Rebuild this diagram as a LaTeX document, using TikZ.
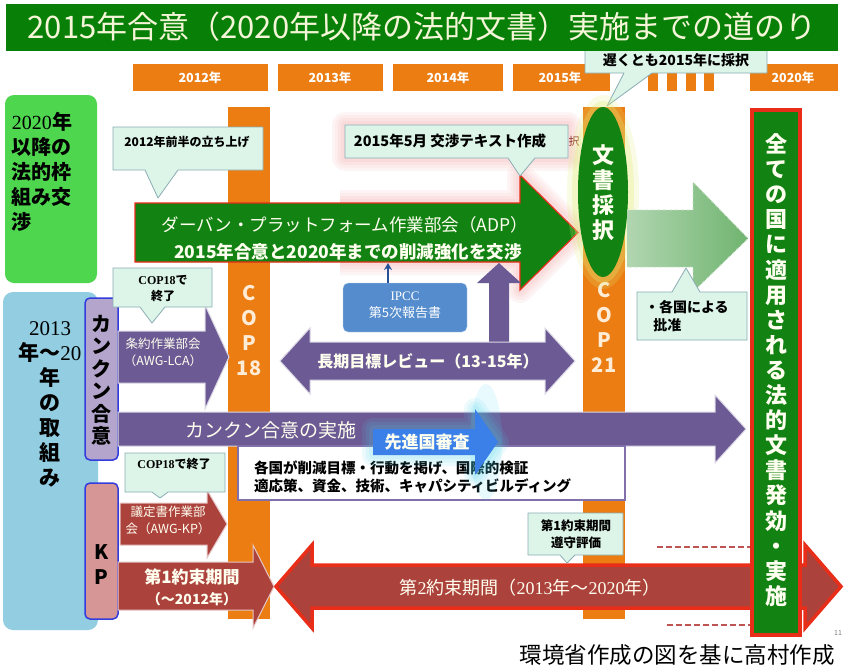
\documentclass[tikz,border=0pt]{standalone}
\usepackage{fontspec}
\setmainfont{Noto Sans CJK JP}
\newfontfamily\sernum{Liberation Serif}
\usetikzlibrary{arrows.meta,shapes.geometric}
\definecolor{titlegreen}{RGB}{8,128,8}
\definecolor{titletext}{RGB}{245,245,215}
\definecolor{yearorange}{RGB}{235,125,18}
\definecolor{brightgreen}{RGB}{78,214,78}
\definecolor{lightblue}{RGB}{146,205,225}
\definecolor{lavender}{RGB}{180,165,205}
\definecolor{kppink}{RGB}{215,150,150}
\definecolor{boxblue}{RGB}{50,60,220}
\definecolor{purplearrow}{RGB}{108,90,148}
\definecolor{darkred}{RGB}{172,66,60}
\definecolor{brightred}{RGB}{232,45,25}
\definecolor{calloutfill}{RGB}{220,245,232}
\definecolor{calloutline}{RGB}{140,172,180}
\definecolor{adpgreen}{RGB}{18,130,18}
\definecolor{lightarrow}{RGB}{112,180,112}
\definecolor{ipccblue}{RGB}{84,140,205}
\definecolor{reviewblue}{RGB}{58,128,232}
\definecolor{arrowtext}{RGB}{255,255,240}
\definecolor{coptext}{RGB}{255,236,215}
\definecolor{dashred}{RGB}{190,85,85}
\definecolor{pinkglow}{RGB}{240,120,120}
\definecolor{yellowglow}{RGB}{225,235,120}
\definecolor{cyanglow}{RGB}{70,215,240}
\newcommand\fsz[2]{\fontsize{#1}{#2}\selectfont}
\tikzset{
  callout/.style={fill=calloutfill, draw=calloutline, line width=0.8pt, line join=round},
  yearbar/.style={fill=yearorange},
  yeartext/.style={text=white, font=\fsz{12.5}{12.5}\bfseries},
  calltext/.style={text=black, font=\fsz{12}{15}\bfseries, align=center},
  arrowlabel/.style={text=arrowtext, align=center},
  copbar/.style={fill=yearorange},
  coplabel/.style={text=coptext, font=\fsz{20}{25}\bfseries, align=center},
  purpleshape/.style={fill=purplearrow, draw=white!75!purplearrow, line width=1pt, line join=miter},
  redshape/.style={fill=darkred, draw=white!70!darkred, line width=1pt},
  sidebox/.style={draw=boxblue, line width=1.5pt, rounded corners=5pt}
}
\begin{document}
\begin{tikzpicture}[x=1pt,y=-1pt, every node/.style={inner sep=0pt, outer sep=0pt}]
\useasboundingbox (0,0) rectangle (844,667);
\fill[white] (0,0) rectangle (844,667);

% year bars
\fill[yearbar] (133,64) rectangle (268,91);
\node[yeartext] (y2012) at (200,77.5) {2012年};
\fill[yearbar] (278,64) rectangle (383,91);
\node[yeartext] (y2013) at (330,77.5) {2013年};
\fill[yearbar] (393,64) rectangle (503,91);
\node[yeartext] (y2014) at (448,77.5) {2014年};
\fill[yearbar] (513,64) rectangle (610,91);
\node[yeartext] (y2015) at (560,77.5) {2015年};
\foreach \a in {648,667,686,704} {\fill[yearbar] (\a,64) rectangle (\a+10,91);}
\fill[yearbar] (750,64) rectangle (838,91);
\node[yeartext] (y2020) at (793,77.5) {2020年};

% callout late 2015
\draw[callout] (585,44) -- (767,44) -- (767,73) -- (652,73) -- (607,106) -- (624,73) -- (585,73) -- cycle;
\node[calltext, font=\fsz{14}{14}\bfseries] (adopt2015) at (676,60) {遅くとも2015年に採択};

% title
\fill[titlegreen] (6,4) rectangle (838,51);
\node[text=titletext, font=\fsz{31}{31}] (title) at (422,27) {2015年合意（2020年以降の法的文書）実施までの道のり};

% left boxes
\fill[brightgreen, rounded corners=9pt] (5,95) rectangle (97,283);
\node[align=left, anchor=north west, font=\fsz{20}{25}\bfseries] (nego) at (12,112) {{\sernum\mdseries 2020}年\\以降の\\法的枠\\組み交\\渉};
\fill[lightblue, rounded corners=10pt] (3,292) rectangle (98,630);
\node[align=center, font=\fsz{21}{25}\bfseries] (torikumi) at (50,404) {{\sernum\mdseries 2013}\\年～{\sernum\mdseries 20}\\年\\の\\取\\組\\み};
\draw[sidebox, fill=lavender] (85,298) rectangle (118,460);
\node[align=center, font=\fsz{20}{22.5}\bfseries] (cancun) at (101.5,380) {カ\\ン\\ク\\ン\\合\\意};
\draw[sidebox, fill=kppink] (85,483) rectangle (118,619);
\node[align=center, font=\fsz{20}{25}\bfseries] (kp) at (101.5,565) {K\\P};

% COP bars
\fill[copbar] (228,107) rectangle (270,619);
\fill[copbar] (583,107) rectangle (625,619);
\node[coplabel] (cop18) at (249,331) {C\\O\\P\\18};
\node[coplabel] (cop21) at (604,327) {C\\O\\P\\21};

% pink glow around ADP head and text callout
\foreach \w in {26,20,14,8} {
  \draw[pinkglow, opacity=0.07, line width=\w pt, line join=round]
    (340,203) -- (520,203) -- (520,175) -- (578,232.5) -- (520,290) -- (520,262) -- (340,262);
  \draw[pinkglow, opacity=0.07, line width=\w pt, line join=round]
    (345,125) rectangle (568,158);
}

% ADP arrow
\draw[fill=adpgreen, draw=brightred, line width=1.2pt, line join=miter] (135,203) -- (520,203) -- (520,175) -- (578,232.5) -- (520,290) -- (520,262) -- (135,262) -- cycle;
\node[arrowlabel, font=\fsz{17.5}{17.5}] (adp1) at (345,225) {ダーバン・プラットフォーム作業部会（ADP）};
\node[arrowlabel, font=\fsz{17.5}{17.5}\bfseries] (adp2) at (348,252) {2015年合意と2020年までの削減強化を交渉};

% callouts above ADP
\draw[callout] (113,127) -- (263,127) -- (263,170) -- (178,170) -- (158,198) -- (145,170) -- (113,170) -- cycle;
\node[calltext] (launch) at (187,142) {2012年前半の立ち上げ};
\draw[callout] (345,125) -- (568,125) -- (568,158) -- (535,158) -- (520,176) -- (508,158) -- (345,158) -- cycle;
\node[calltext, font=\fsz{14.5}{14.5}\bfseries] (text2015) at (450,141) {2015年5月 交渉テキスト作成};
\node[text={rgb,255:red,140;green,50;blue,40}, font=\fsz{11}{11}] (stray) at (574,141) {択};

% ellipse
\fill[yellowglow, opacity=0.2] (603,192) ellipse [x radius=36, y radius=97];
\fill[yellowglow, opacity=0.3] (603,192) ellipse [x radius=31, y radius=91];
\node[ellipse, fill=adpgreen, minimum width=50, minimum height=170] (adoptdoc) at (603,192) {};
\node[align=center, text=arrowtext, font=\fsz{22}{25}\bfseries] (adoptlabel) at (603,193) {文\\書\\採\\択};

% light green arrow
\shade[left color=lightarrow!55!white, right color=lightarrow] (627,210) -- (693,210) -- (693,182) -- (748,238.5) -- (693,292) -- (693,267) -- (627,267) -- cycle;
\draw[white!60!lightarrow, dashed, line width=0.8pt] (627,210) -- (693,210) -- (693,182) -- (748,238.5) -- (693,292) -- (693,267) -- (627,267);

% callout ratification
\draw[callout] (637,292) -- (672,292) -- (686,268) -- (700,292) -- (747,292) -- (747,340) -- (637,340) -- cycle;
\node[align=left, anchor=west, font=\fsz{14}{18}\bfseries] (ratify) at (645,316) {・各国による\\\hspace{0.6em}批准};

% IPCC and up arrow
\fill[purplearrow] (489,345) -- (489,283) -- (477,283) -- (499,263) -- (521,283) -- (509,283) -- (509,345) -- cycle;
\node[fill=ipccblue, rounded corners=5pt, minimum width=124, minimum height=49, draw=white!70!ipccblue] (ipcc) at (405,307.5) {};
\node[align=center, text=white, font=\fsz{13}{17}] (ipcclabel) at (405,305) {{\sernum IPCC}\\第5次報告書};
\coordinate (adpbottom) at (388,263);
\draw[-{Stealth[length=7pt,width=8pt]}, line width=2.5pt, draw={rgb,255:red,40;green,80;blue,150}] (388,283) -- (adpbottom);

% long-term review double arrow
\draw[purpleshape] (280,361) -- (310,328) -- (310,342) -- (545,342) -- (545,328) -- (575,361) -- (545,394) -- (545,380) -- (310,380) -- (310,394) -- cycle;
\node[arrowlabel, font=\fsz{16}{16}\bfseries] (review) at (428,361) {長期目標レビュー（13-15年）};

% AWG-LCA arrow
\draw[purpleshape] (118,331) -- (205,331) -- (205,305) -- (229,357) -- (205,409) -- (205,383) -- (118,383) -- cycle;
\node[arrowlabel, font=\fsz{12.5}{17}] (lca) at (163,352) {条約作業部会\\（AWG-LCA）};
\draw[callout] (113,268) -- (212,268) -- (212,307) -- (165,307) -- (152,323) -- (140,307) -- (113,307) -- cycle;
\node[calltext, font=\fsz{12}{16}\bfseries] (cop18end1) at (163,289) {{\sernum COP18}で\\終了};

% Cancun implementation arrow
\draw[purpleshape] (118,412) -- (715,412) -- (715,395) -- (746,429) -- (715,463) -- (715,446) -- (118,446) -- cycle;
\node[arrowlabel, anchor=west, font=\fsz{19}{19}] (cancunimpl) at (185,430) {カンクン合意の実施};

% text box
\draw[fill=white, draw={rgb,255:red,130;green,112;blue,170}, line width=1.5pt] (238,446) rectangle (625,500);
\node[align=left, anchor=west, font=\fsz{14.5}{18}\bfseries] (boxtext) at (254,477) {各国が削減目標・行動を掲げ、国際的検証\\適応策、資金、技術、キャパシティビルディング};

% developed country review arrow with glow
\foreach \w in {22,15,8} {
  \draw[cyanglow, opacity=0.1, line width=\w pt, line join=round]
    (373,429) -- (475,429) -- (475,409) -- (498,442) -- (475,475) -- (475,455) -- (373,455) -- cycle;
}
\fill[cyanglow, opacity=0.12] (486,442) ellipse [x radius=16, y radius=58];
\fill[reviewblue] (373,429) -- (475,429) -- (475,409) -- (498,442) -- (475,475) -- (475,455) -- (373,455) -- cycle;
\node[arrowlabel, font=\fsz{17}{17}\bfseries] (devreview) at (427,442) {先進国審査};

% AWG-KP arrow
\draw[redshape] (120,503) -- (207,503) -- (207,490) -- (227,524) -- (207,558) -- (207,545) -- (120,545) -- cycle;
\node[arrowlabel, font=\fsz{12.5}{17}] (kpawg) at (168,520) {議定書作業部\\会（AWG-KP）};
\draw[callout] (125,453) -- (225,453) -- (225,492) -- (168,492) -- (160,498) -- (152,492) -- (125,492) -- cycle;
\node[calltext, font=\fsz{12}{12}\bfseries] (cop18end2) at (174,464) {{\sernum COP18}で終了};

% first commitment period
\draw[redshape] (118,562) -- (253,562) -- (253,545) -- (274,586.5) -- (253,628) -- (253,610) -- (118,610) -- cycle;
\node[arrowlabel, font=\fsz{17}{21}\bfseries] (cp1) at (192,587) {第1約束期間\\{\fsz{14}{14}（～2012年）}};

% second commitment period
\draw[fill=darkred, draw=brightred, line width=3.5pt, line join=miter] (276,586.5) -- (312,545) -- (312,565) -- (805,565) -- (805,545) -- (841,586.5) -- (805,628) -- (805,608) -- (312,608) -- (312,628) -- cycle;
\node[arrowlabel, font=\fsz{18}{18}] (cp2) at (530,588) {第{\sernum 2}約束期間（{\sernum 2013}年～{\sernum 2020}年）};

% dashed lines
\draw[dashred, line width=1.5pt, dash pattern=on 6pt off 3pt] (657,547) -- (750,547);
\draw[dashred, line width=1.5pt, dash pattern=on 6pt off 3pt] (667,625) -- (750,625);

% right box
\draw[fill=adpgreen, draw=brightred, line width=3.5pt] (752,110) rectangle (800,635);
\node[align=center, text=arrowtext, font=\fsz{22}{25.1}\bfseries] (allcountries) at (776,370) {全\\て\\の\\国\\に\\適\\用\\さ\\れ\\る\\法\\的\\文\\書\\発\\効\\・\\実\\施};

% compliance callout
\draw[callout] (528,513) -- (623,513) -- (623,555) -- (575,555) -- (567,563) -- (560,555) -- (528,555) -- cycle;
\node[calltext, font=\fsz{12.5}{17}\bfseries] (compliance) at (576,534) {第1約束期間\\遵守評価};

% credit
\node[font=\fsz{22.5}{22.5}] (credit) at (677,655) {環境省作成の図を基に高村作成};
\node[text=gray, font=\fsz{7}{7}] (pageno) at (838,633) {11};
\end{tikzpicture}
\end{document}
